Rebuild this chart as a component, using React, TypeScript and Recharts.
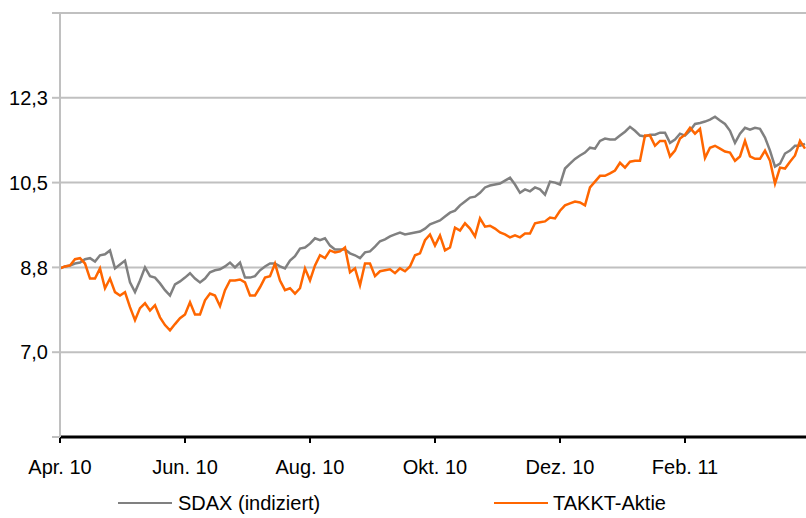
import React from 'react';
import {
  LineChart, Line, XAxis, YAxis, CartesianGrid, Legend
} from 'recharts';

// Apr. 2010 - Mar. 2011, two points per week (approx.)
const sdax: number[] = [
  8.73, 8.77, 8.79, 8.83, 8.85, 8.92, 8.94, 8.87, 9.00, 9.02,
  9.10, 8.73, 8.81, 8.89, 8.44, 8.24, 8.48, 8.75, 8.57, 8.54,
  8.42, 8.28, 8.17, 8.40, 8.46, 8.54, 8.63, 8.52, 8.44, 8.52,
  8.65, 8.69, 8.71, 8.77, 8.85, 8.75, 8.85, 8.54, 8.54, 8.57,
  8.69, 8.77, 8.83, 8.83, 8.77, 8.73, 8.89, 8.98, 9.14, 9.16,
  9.24, 9.35, 9.31, 9.35, 9.20, 9.12, 9.12, 9.12, 9.04, 9.00,
  8.94, 9.06, 9.08, 9.18, 9.29, 9.33, 9.39, 9.43, 9.47, 9.43,
  9.45, 9.47, 9.49, 9.55, 9.64, 9.68, 9.72, 9.80, 9.88, 9.92,
  10.03, 10.11, 10.19, 10.21, 10.29, 10.40, 10.44, 10.46, 10.48, 10.54,
  10.60, 10.46, 10.29, 10.36, 10.32, 10.40, 10.36, 10.25, 10.52, 10.50,
  10.46, 10.79, 10.89, 10.99, 11.06, 11.12, 11.22, 11.20, 11.36, 11.41,
  11.39, 11.39, 11.47, 11.55, 11.65, 11.57, 11.47, 11.45, 11.49, 11.49,
  11.53, 11.53, 11.32, 11.39, 11.51, 11.47, 11.57, 11.71, 11.73, 11.76,
  11.80, 11.86, 11.78, 11.71, 11.57, 11.32, 11.51, 11.63, 11.59, 11.63,
  11.61, 11.43, 11.16, 10.83, 10.89, 11.10, 11.16, 11.26, 11.26, 11.30,
];

const takkt: number[] = [
  8.73, 8.77, 8.79, 8.92, 8.94, 8.83, 8.52, 8.52, 8.73, 8.32,
  8.52, 8.24, 8.17, 8.24, 7.93, 7.66, 7.91, 8.01, 7.86, 7.97,
  7.72, 7.56, 7.45, 7.58, 7.70, 7.78, 8.03, 7.78, 7.78, 8.07,
  8.21, 8.17, 7.95, 8.28, 8.48, 8.48, 8.50, 8.44, 8.17, 8.17,
  8.34, 8.54, 8.57, 8.83, 8.48, 8.28, 8.32, 8.21, 8.32, 8.73,
  8.48, 8.79, 9.00, 8.94, 9.10, 9.06, 9.08, 9.16, 8.65, 8.73,
  8.38, 8.83, 8.83, 8.57, 8.67, 8.69, 8.71, 8.63, 8.73, 8.67,
  8.77, 9.00, 9.04, 9.31, 9.43, 9.20, 9.41, 9.10, 9.16, 9.57,
  9.51, 9.66, 9.55, 9.39, 9.76, 9.59, 9.61, 9.55, 9.47, 9.43,
  9.37, 9.41, 9.37, 9.45, 9.45, 9.66, 9.68, 9.70, 9.78, 9.76,
  9.92, 10.03, 10.07, 10.11, 10.09, 10.03, 10.40, 10.52, 10.64, 10.64,
  10.69, 10.75, 10.91, 10.81, 10.93, 10.95, 10.95, 11.47, 11.47, 11.26,
  11.36, 11.36, 11.04, 11.16, 11.41, 11.49, 11.63, 11.51, 11.61, 11.01,
  11.22, 11.26, 11.20, 11.14, 11.12, 10.95, 11.04, 11.36, 11.04, 10.99,
  10.99, 11.16, 10.95, 10.48, 10.81, 10.79, 10.93, 11.06, 11.36, 11.20,
];

const monthTicks = [0, 25, 50, 75, 100, 125];
const monthLabels = ['Apr. 10', 'Jun. 10', 'Aug. 10', 'Okt. 10', 'Dez. 10', 'Feb. 11'];
const yTicks = [5.25, 7, 8.75, 10.5, 12.25, 14];

const data = sdax.map((v, i) => ({ i, sdax: v, takkt: takkt[i] }));

const FONT = '"Liberation Sans", Arial, sans-serif';

const renderLegend = () => (
  <div style={{ position: 'relative', width: 806, height: 30, fontFamily: FONT, fontSize: 20, color: '#000' }}>
    <div style={{ position: 'absolute', left: 118, top: 14, width: 54, height: 2, background: '#808080' }} />
    <span style={{ position: 'absolute', left: 178, top: 3, lineHeight: '24px' }}>SDAX (indiziert)</span>
    <div style={{ position: 'absolute', left: 494, top: 14, width: 54, height: 2, background: '#ff6600' }} />
    <span style={{ position: 'absolute', left: 553, top: 3, lineHeight: '24px' }}>TAKKT-Aktie</span>
  </div>
);

export default function App() {
  return (
    <div style={{ position: 'absolute', left: 0, top: 0, background: '#fff' }}>
      <LineChart width={806} height={518} data={data} margin={{ top: 13, right: 0, left: 0, bottom: 51 }}>
        <CartesianGrid vertical={false} stroke="#c0c0c0" strokeWidth={2} />
        <XAxis
          dataKey="i"
          type="number"
          domain={[0, 149.2]}
          ticks={monthTicks}
          tickFormatter={(v: number) => monthLabels[monthTicks.indexOf(v)] ?? ''}
          axisLine={{ stroke: '#000', strokeWidth: 3 }}
          tickLine={{ stroke: '#000', strokeWidth: 2 }}
          tickSize={6}
          tickMargin={17}
          height={30}
          tick={{ fill: '#000', fontSize: 20, fontFamily: FONT }}
          interval={0}
        />
        <YAxis
          type="number"
          domain={[5.25, 14]}
          ticks={yTicks}
          tickFormatter={(v: number) => (v === 5.25 || v === 14 ? '' : v.toFixed(1).replace('.', ','))}
          axisLine={{ stroke: '#c0c0c0', strokeWidth: 2 }}
          tickLine={{ stroke: '#c0c0c0', strokeWidth: 2 }}
          tickSize={8}
          tickMargin={4}
          width={60}
          tick={{ fill: '#000', fontSize: 20, fontFamily: FONT }}
          interval={0}
        />
        <Legend
          layout="horizontal"
          verticalAlign="middle"
          align="center"
          content={renderLegend}
          wrapperStyle={{ left: 0, top: 488, width: 806 }}
        />
        <Line
          type="linear"
          dataKey="sdax"
          name="SDAX (indiziert)"
          stroke="#808080"
          strokeWidth={2.5}
          dot={false}
          isAnimationActive={false}
        />
        <Line
          type="linear"
          dataKey="takkt"
          name="TAKKT-Aktie"
          stroke="#ff6600"
          strokeWidth={2.5}
          dot={false}
          isAnimationActive={false}
        />
      </LineChart>
    </div>
  );
}
